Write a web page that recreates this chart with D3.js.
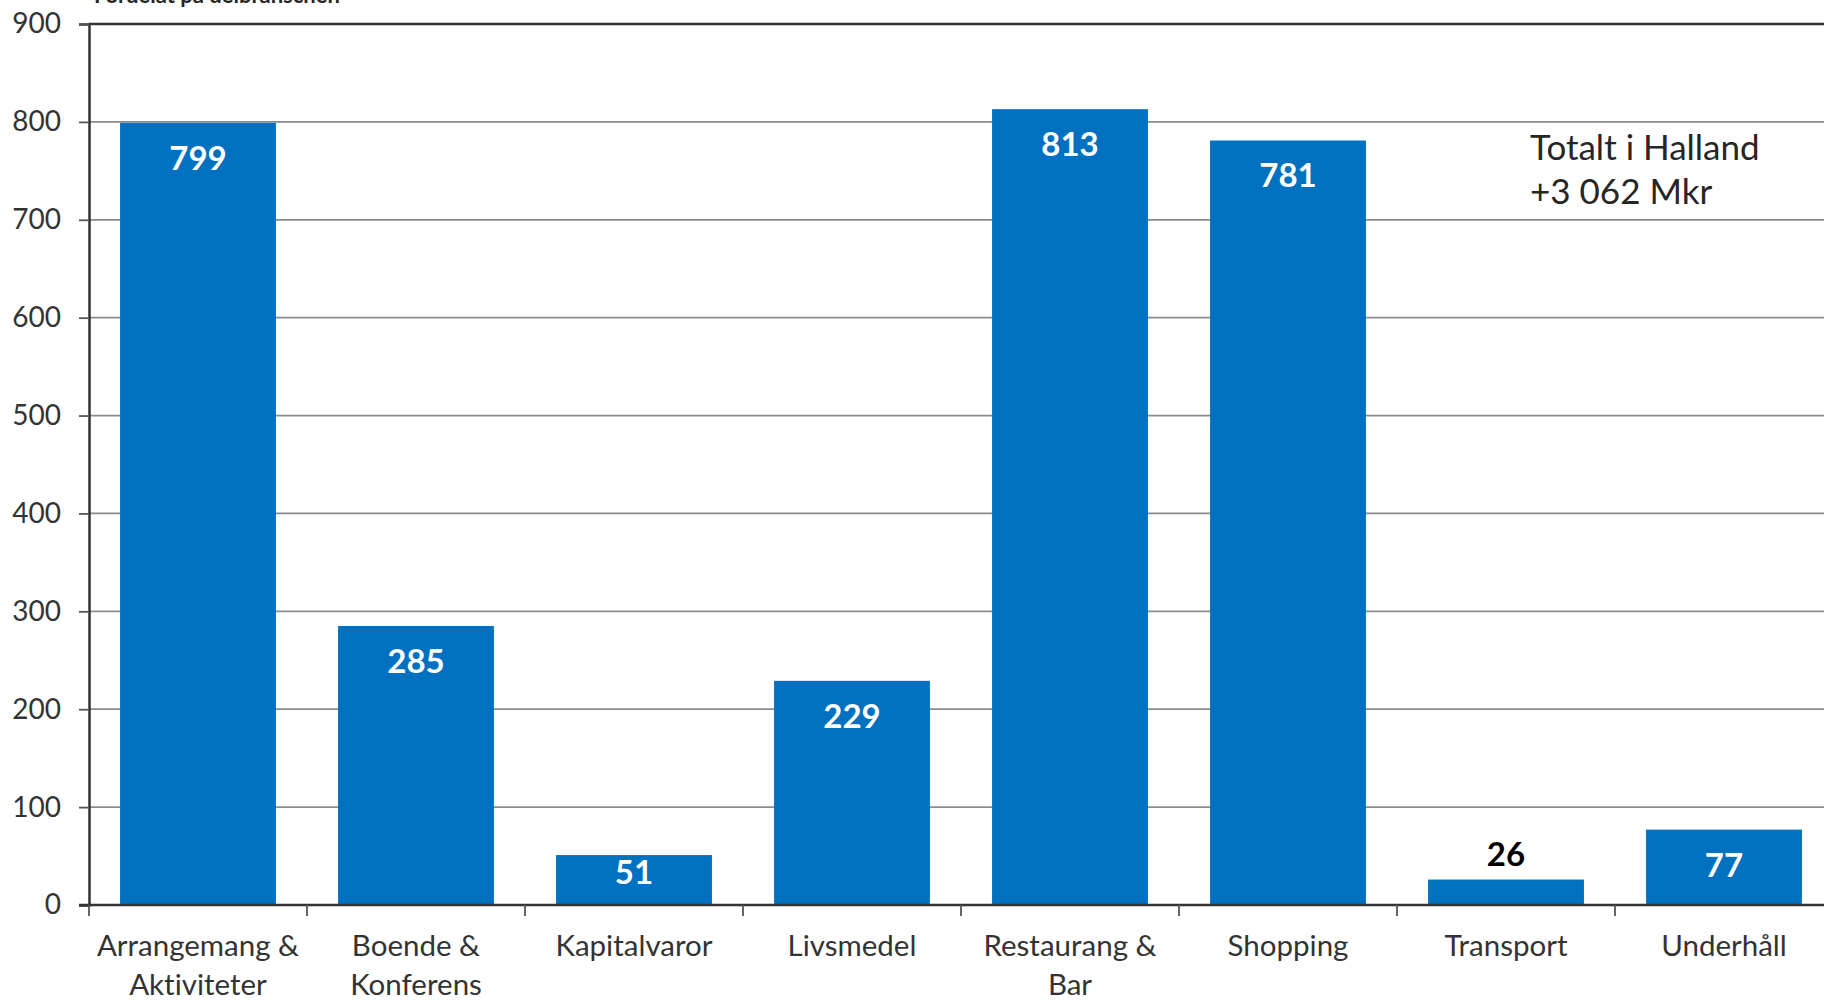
<!DOCTYPE html>
<html>
<head>
<meta charset="utf-8">
<script src="https://cdn.jsdelivr.net/npm/d3@7"></script>
<style>
  html, body { margin: 0; padding: 0; background: #ffffff; }
  svg { display: block; }
  text { font-family: Lato, "Open Sans", sans-serif; font-variant-ligatures: none; }
</style>
</head>
<body>
<svg id="chart" width="1824" height="1000"></svg>
<script>
const categories = [
  ["Arrangemang &", "Aktiviteter"],
  ["Boende &", "Konferens"],
  ["Kapitalvaror"],
  ["Livsmedel"],
  ["Restaurang &", "Bar"],
  ["Shopping"],
  ["Transport"],
  ["Underhåll"]
];
const values = [799, 285, 51, 229, 813, 781, 26, 77];
const yTicks = [0, 100, 200, 300, 400, 500, 600, 700, 800, 900];
const titleText = "Fördelat på delbranschen";
const annotation = ["Totalt i Halland", "+3 062 Mkr"];

(function () {
const svg = d3.select("#chart");
const mLeft = 89, mTop = 24, mBottom = 905, mRight = 89 + 8 * 218;
const pad = 0.285;

const keys = categories.map(c => c.join(" "));
const x = d3.scaleBand().domain(keys).range([mLeft, mRight])
  .paddingInner(pad).paddingOuter(pad / 2);
const y = d3.scaleLinear().domain([0, 900]).range([mBottom, mTop]);
const step = x.step();

// title (cut off at top, as in the source image)
svg.append("text")
  .attr("x", 94).attr("y", 3)
  .attr("font-size", 22).attr("font-weight", 700).attr("fill", "#262626")
  .text(titleText);

// gridlines
svg.append("g").selectAll("line")
  .data(yTicks.filter(d => d > 0))
  .join("line")
  .attr("x1", mLeft).attr("x2", mRight)
  .attr("y1", d => y(d)).attr("y2", d => y(d))
  .attr("stroke", d => d === 900 ? "#333" : "#8c8c8c")
  .attr("stroke-width", d => d === 900 ? 2.5 : 1.8);

// bars
svg.append("g").selectAll("rect")
  .data(values)
  .join("rect")
  .attr("x", (d, i) => x(keys[i]))
  .attr("width", x.bandwidth())
  .attr("y", d => y(d))
  .attr("height", d => y(0) - y(d))
  .attr("fill", "#0070C0");

// value labels
svg.append("g").selectAll("text")
  .data(values)
  .join("text")
  .attr("x", (d, i) => x(keys[i]) + x.bandwidth() / 2)
  .attr("y", d => {
    const h = y(0) - y(d);
    if (d < 40) return y(d) - 25;
    if (h < 60) return (y(d) + y(0)) / 2 - 8;
    return y(d) + 35;
  })
  .attr("dy", "0.36em")
  .attr("text-anchor", "middle")
  .attr("font-size", 33).attr("font-weight", 700)
  .attr("fill", d => d < 40 ? "#000000" : "#ffffff")
  .text(d => d);

// y axis
const yAxis = svg.append("g")
  .attr("transform", `translate(${mLeft},0)`)
  .call(d3.axisLeft(y).tickValues(yTicks).tickSize(10).tickPadding(18));
yAxis.select(".domain").attr("stroke", "#333").attr("stroke-width", 2.5);
yAxis.selectAll(".tick line").attr("stroke", "#555").attr("stroke-width", 1.8);
yAxis.selectAll(".tick text")
  .attr("font-size", 28).attr("fill", "#333")
  .attr("font-family", "Lato, 'Open Sans', sans-serif");

// x axis baseline
svg.append("line")
  .attr("x1", mLeft - 10).attr("x2", mRight)
  .attr("y1", y(0)).attr("y2", y(0))
  .attr("stroke", "#333").attr("stroke-width", 2.5);

// x boundary ticks
const bounds = d3.range(keys.length + 1);
svg.append("g").selectAll("line")
  .data(bounds)
  .join("line")
  .attr("x1", i => mLeft + i * step).attr("x2", i => mLeft + i * step)
  .attr("y1", y(0)).attr("y2", y(0) + 11)
  .attr("stroke", "#555").attr("stroke-width", 1.8);

// category labels
const catG = svg.append("g").selectAll("text")
  .data(categories)
  .join("text")
  .attr("x", (d, i) => x(keys[i]) + x.bandwidth() / 2)
  .attr("y", 956)
  .attr("text-anchor", "middle")
  .attr("font-size", 29.5).attr("fill", "#333");
catG.selectAll("tspan")
  .data(d => d)
  .join("tspan")
  .attr("x", function () { return d3.select(this.parentNode).attr("x"); })
  .attr("dy", (d, i) => i === 0 ? 0 : 39)
  .text(d => d);

// annotation
svg.append("g").selectAll("text")
  .data(annotation)
  .join("text")
  .attr("x", 1530)
  .attr("y", (d, i) => 160 + i * 44)
  .attr("font-size", 35).attr("fill", "#262626")
  .text(d => d);
})();
</script>
</body>
</html>
